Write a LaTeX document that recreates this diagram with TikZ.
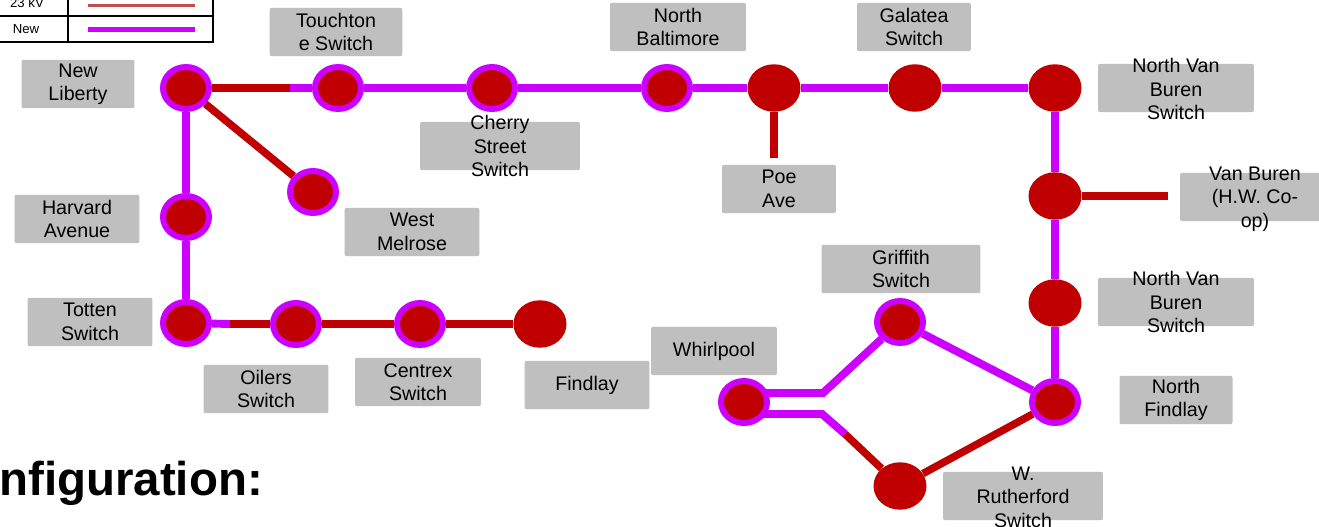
\documentclass[tikz,border=0pt]{standalone}
\usepackage{fontspec}
\setmainfont{Liberation Sans}
\usetikzlibrary{shapes.geometric,backgrounds}
\definecolor{netred}{RGB}{192,0,0}
\definecolor{newmag}{RGB}{204,0,255}
\definecolor{kvred}{RGB}{192,80,77}
\definecolor{boxgray}{RGB}{191,191,191}
\begin{document}
\begin{tikzpicture}[
                x=0.02cm, y=-0.02cm,
                ring/.style={ellipse, fill=netred, draw=newmag, line width=3.4pt, minimum width=0.92cm, minimum height=0.84cm, inner sep=0pt},
                bus/.style={ellipse, fill=netred, minimum width=1.06cm, minimum height=0.95cm, inner sep=0pt},
                tag/.style={rectangle, fill=boxgray, rounded corners=1.2pt, minimum height=0.97cm, inner sep=0pt, align=center, font=\fontsize{11.2}{13.3}\selectfont},
                txt/.style={align=center, inner sep=0pt, font=\fontsize{11.2}{13.3}\selectfont},
                newfeed/.style={draw=newmag, line width=4.5pt},
                oldfeed/.style={draw=netred, line width=4.3pt}
                ]
                \useasboundingbox (0,0) rectangle (1319,527);
                % Legend
                \draw[line width=1pt] (-20,-20) rectangle (213,42);
                \draw[line width=1pt] (68,-20) -- (68,42) (-20,16) -- (213,16);
                \node[font=\fontsize{7.5}{9}\selectfont, inner sep=0pt] (kv) at (27,3) {23 kV};
                \node[font=\fontsize{7.5}{9}\selectfont, inner sep=0pt] (new) at (26,29) {New};
                \coordinate (kvA) at (88,5.5);
                \coordinate (kvB) at (195,5.5);
                \coordinate (newA) at (88,29.5);
                \coordinate (newB) at (195,29.5);
                \draw[draw=kvred, line width=1.8pt] (kvA) -- (kvB);
                \draw[draw=newmag, line width=2.6pt] (newA) -- (newB);
                \node[anchor=base west, inner sep=0pt, font=\fontsize{27}{30}\selectfont\bfseries] (cfg) at (-1,495) {nfiguration:};
                % Stations
                \node[ring] (nl) at (186,88) {};
                \node[ring] (touch) at (338,88) {};
                \node[ring] (cherry) at (492,88) {};
                \node[ring] (nbalt) at (667,88) {};
                \node[bus] (poe) at (774,88) {};
                \node[bus] (gal) at (915,88) {};
                \node[bus] (nvbA) at (1055,88) {};
                \node[bus] (vbj) at (1055,196) {};
                \node[bus] (nvbB) at (1055,303) {};
                \node[ring] (nfind) at (1055,402) {};
                \node[ring] (grif) at (900,322) {};
                \node[ring] (whirl) at (744,402) {};
                \node[bus] (ruth) at (900,486) {};
                \node[ring] (wmel) at (313,192) {};
                \node[ring] (harv) at (186,217) {};
                \node[ring] (tot) at (186,323) {};
                \node[ring] (oil) at (296,324) {};
                \node[ring] (cent) at (420,324) {};
                \node[bus] (find) at (540,324) {};
                \coordinate (c1) at (290,88);
                \coordinate (c2) at (230,324);
                \coordinate (poeEnd) at (774,158);
                \coordinate (vbEnd) at (1168,196);
                \coordinate (w1) at (823,393);
                \coordinate (w2) at (822,414);
                \coordinate (w3) at (845,434);
                % Lines
                \draw[oldfeed] (nl) -- (c1);
                \draw[newfeed] (c1) -- (touch);
                \draw[newfeed] (touch) -- (cherry);
                \draw[newfeed] (cherry) -- (nbalt);
                \draw[newfeed] (nbalt) -- (poe);
                \draw[newfeed] (poe) -- (gal);
                \draw[newfeed] (gal) -- (nvbA);
                \draw[newfeed] (nvbA) -- (vbj);
                \draw[newfeed] (vbj) -- (nvbB);
                \draw[newfeed] (nvbB) -- (nfind);
                \draw[newfeed] (nfind) -- (grif);
                \draw[newfeed] (nl) -- (harv);
                \draw[newfeed] (harv) -- (tot);
                \draw[newfeed] (tot) -- (c2);
                \draw[oldfeed] (c2) -- (oil);
                \draw[oldfeed] (oil) -- (cent);
                \draw[oldfeed] (cent) -- (find);
                \draw[oldfeed] (nl) -- (wmel);
                \draw[oldfeed] (poe) -- (poeEnd);
                \draw[oldfeed] (vbj) -- (vbEnd);
                \draw[oldfeed] (ruth) -- (nfind);
                \draw[oldfeed] (w3) -- (ruth);
                \begin{pgfonlayer}{background}
                \draw[newfeed] (whirl.center |- w1) -- (w1) -- (grif);
                \draw[newfeed] (whirl.center |- w2) -- (w2) -- (w3);
                \end{pgfonlayer}
                % Labels
                \node[tag, minimum width=2.66cm] (touch-l) at (336,32) {Touchton\\e Switch};
                \node[tag, minimum width=2.72cm] (nbalt-l) at (678,27) {North\\Baltimore};
                \node[tag, minimum width=2.28cm] (gal-l) at (914,27) {Galatea\\Switch};
                \node[tag, minimum width=3.12cm] (nvbA-l) at (1176,88) {};
                \node[txt] (nvbA-t) at (1176,89) {North Van\\Buren\\Switch};
                \node[tag, minimum width=2.26cm] (nl-l) at (78,84) {New\\Liberty};
                \node[tag, minimum width=3.2cm] (cherry-l) at (500,146) {};
                \node[txt] (cherry-t) at (500,146) {Cherry\\Street\\Switch};
                \node[tag, minimum width=2.28cm] (poe-l) at (779,189) {Poe\\Ave};
                \node[tag, minimum width=2.96cm] (vb-l) at (1254,197) {};
                \node[txt] (vb-t) at (1255,199) {Van Buren\\(H.W. Co-\\op)};
                \node[tag, minimum width=2.5cm] (harv-l) at (77,219) {Harvard\\Avenue};
                \node[tag, minimum width=2.7cm] (wmel-l) at (412,232) {West\\Melrose};
                \node[tag, minimum width=3.18cm] (grif-l) at (901,269) {Griffith\\Switch};
                \node[tag, minimum width=3.12cm] (nvbB-l) at (1176,302) {};
                \node[txt] (nvbB-t) at (1176,302) {North Van\\Buren\\Switch};
                \node[tag, minimum width=2.5cm] (tot-l) at (90,322) {Totten\\Switch};
                \node[tag, minimum width=2.52cm] (whirl-l) at (714,351) {Whirlpool};
                \node[tag, minimum width=2.5cm] (oil-l) at (266,389) {Oilers\\Switch};
                \node[tag, minimum width=2.52cm] (cent-l) at (418,382) {Centrex\\Switch};
                \node[tag, minimum width=2.5cm] (find-l) at (587,385) {Findlay};
                \node[tag, minimum width=2.26cm] (nfind-l) at (1176,400) {North\\Findlay};
                \node[tag, minimum width=3.2cm] (ruth-l) at (1023,496) {};
                \node[txt] (ruth-t) at (1023,497) {W.\\Rutherford\\Switch};
            \end{tikzpicture}
\end{document}
